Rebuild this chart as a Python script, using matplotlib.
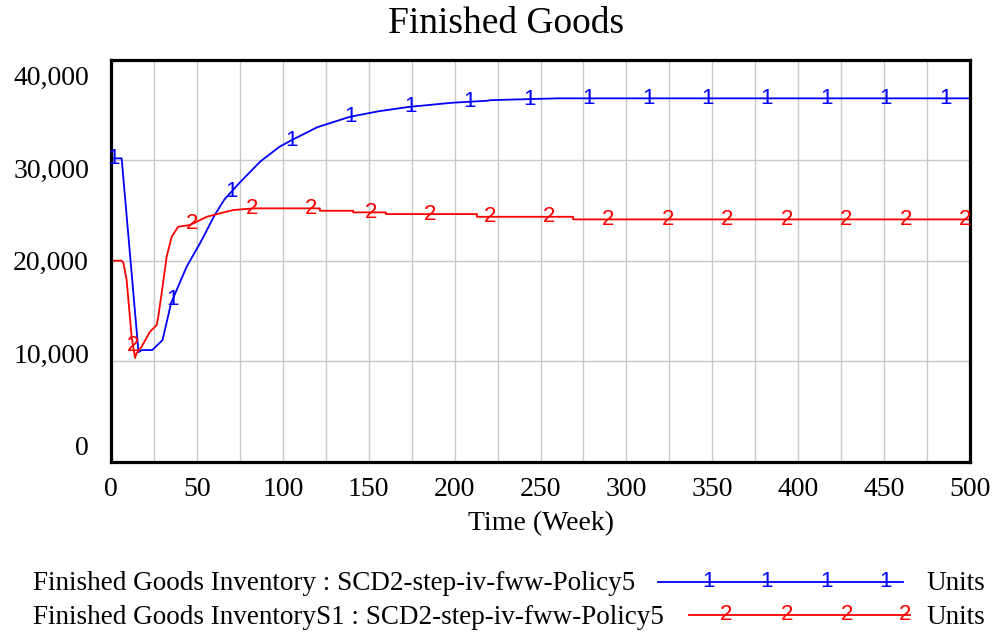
import numpy as np
import matplotlib
matplotlib.use("Agg")
import matplotlib.pyplot as plt
from matplotlib.lines import Line2D
from matplotlib.transforms import blended_transform_factory

plt.rcParams['font.family'] = ['Liberation Serif', 'DejaVu Serif']

# data (Time in weeks, inventory in units)
blue_t = [0, 6.2, 16, 18, 24, 30, 35, 44, 52, 60.5, 66, 75, 87, 98, 105, 120,
          139, 156, 174, 184, 198.5, 219, 221, 260, 500]
blue_v = [30200, 30200, 10900, 11100, 11100, 12100, 15800, 19400, 21800, 24600,
          26100, 27800, 29900, 31350, 32000, 33300, 34340, 34900, 35340, 35500,
          35740, 35940, 36000, 36180, 36180]

red_t = [0, 6.2, 7.2, 9.1, 12, 14, 14.9, 17.8, 22.7, 26.6, 27.5, 29.5, 32.4,
         35.3, 39.1, 46, 55.7, 71, 83, 121.6, 121.6, 141, 141, 160, 160, 213,
         213, 269, 269, 500]
red_v = [20000, 20000, 19800, 18080, 12430, 10310, 10800, 11430, 12930, 13600,
         14420, 16780, 20400, 22390, 23390, 23560, 24380, 25050, 25220, 25220,
         24980, 24980, 24820, 24820, 24650, 24650, 24380, 24380, 24120, 24120]

x_ticks = [0, 50, 100, 150, 200, 250, 300, 350, 400, 450, 500]
y_ticks = [0, 10000, 20000, 30000, 40000]
y_labels = ["0", "10,000", "20,000", "30,000", "40,000"]

title = "Finished Goods"
x_title = "Time (Week)"
legend_rows = [
    ("Finished Goods Inventory : SCD2-step-iv-fww-Policy5", "1", "#0000ff"),
    ("Finished Goods InventoryS1 : SCD2-step-iv-fww-Policy5", "2", "#ff0000"),
]
units = "Units"

W, H = 995, 632


def fx(px):
    return px / W


def fy(py):
    return 1 - py / H


fig = plt.figure(figsize=(W / 100, H / 100), dpi=100)
ax = fig.add_axes([fx(111), fy(461.5), fx(970) - fx(111), fy(60) - fy(461.5)])

ax.set_xlim(0, 500)
ax.set_ylim(0, 40000)
ax.set_xticks(x_ticks)
ax.set_xticks(np.arange(25, 500, 50), minor=True)
ax.set_yticks(y_ticks)
ax.set_yticklabels([])
ax.tick_params(which='both', length=0)
ax.tick_params(axis='x', labelsize=20, pad=11)
ax.grid(True, which='both', color='#c8c8c8', lw=1.0)
ax.set_axisbelow(True)
for s in ax.spines.values():
    s.set_linewidth(2.3)
    s.set_color('black')

# y labels: spread the Vensim way, a bit inside the gridlines
tr = blended_transform_factory(fig.transFigure, ax.transData)
for v, lab in zip(y_ticks, y_labels):
    base = 648 + v * (37510 - 648) / 40000
    ax.text(fx(89), base, lab, transform=tr, ha='right', va='baseline', fontsize=20)

series = [(blue_t, blue_v, "1", "#0000ff", 1.2), (red_t, red_v, "2", "#ff0000", 12.8)]
step = 34.6
for t, v, mark, col, t0 in series:
    ax.plot(t, v, color=col, lw=1.3)
    mt = np.arange(t0, 500, step)
    mv = np.interp(mt, t, v)
    for a, b in zip(mt, mv):
        ax.text(a, b, mark, color=col, fontsize=16, family='Liberation Sans',
                ha='center', va='center', clip_on=False)

fig.text(fx(506), fy(33), title, ha='center', va='baseline', fontsize=27)
fig.text(fx(541), fy(530), x_title, ha='center', va='baseline', fontsize=20)

# legend drawn by hand under the plot
leg = [
    (590, 581.7, 658, 903, [708, 767, 827, 886]),
    (623.5, 615, 689, 910, [726.5, 786.7, 846.7, 905]),
]
for (label, mark, col), (base, ly, x0, x1, mxs) in zip(legend_rows, leg):
    fig.text(fx(33), fy(base), label, ha='left', va='baseline', fontsize=19.5)
    fig.add_artist(Line2D([fx(x0), fx(x1)], [fy(ly), fy(ly)], color=col, lw=1.3,
                          transform=fig.transFigure))
    for m in mxs:
        fig.text(fx(m), fy(ly), mark, color=col, fontsize=16, family='Liberation Sans',
                 ha='center', va='center')
    fig.text(fx(926), fy(base), units, ha='left', va='baseline', fontsize=19.5)

fig.savefig("out.png", dpi=100)
